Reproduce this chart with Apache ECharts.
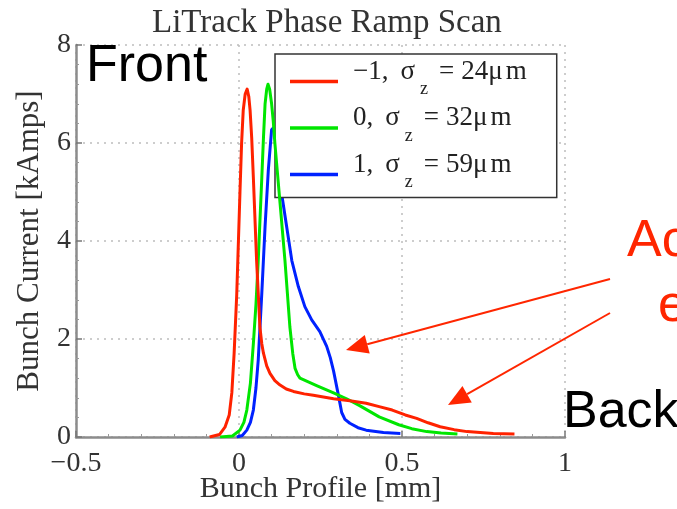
<!DOCTYPE html>
<html><head><meta charset="utf-8">
<script src="https://cdn.jsdelivr.net/npm/echarts@6/dist/echarts.min.js"></script>
<style>html,body{margin:0;padding:0;background:#fff}#c{width:677px;height:509px}</style>
</head><body><div id="c"></div>
<script>
const titleText = 'LiTrack Phase Ramp Scan';
const xAxisName = 'Bunch Profile [mm]';
const yAxisName = 'Bunch Current [kAmps]';
const xTicks = [-0.5, 0, 0.5, 1];
const yTicks = [0, 2, 4, 6, 8];
const phaseLabels = ['−1', '0', '1'];
const sigmaZ = [24, 32, 59];
const seriesColors = ['#ff2200', '#00e600', '#0022ff'];

const redX = [-0.09, -0.06, -0.043, -0.03, -0.022, -0.015, -0.007, 0.003, 0.008, 0.013, 0.019, 0.025, 0.03, 0.034, 0.039, 0.044, 0.054, 0.06, 0.064, 0.07, 0.075, 0.085, 0.095, 0.11, 0.126, 0.145, 0.167, 0.2, 0.228, 0.29, 0.34, 0.39, 0.43, 0.47, 0.51, 0.545, 0.58, 0.617, 0.66, 0.70, 0.74, 0.78, 0.845];
const redY = [0, 0.05, 0.2, 0.45, 0.9, 1.7, 2.9, 5.0, 6.0, 6.67, 7.0, 7.1, 6.95, 6.67, 6.1, 5.3, 3.6, 2.8, 2.25, 1.9, 1.71, 1.45, 1.3, 1.15, 1.06, 0.98, 0.93, 0.88, 0.85, 0.78, 0.74, 0.69, 0.62, 0.55, 0.45, 0.38, 0.29, 0.21, 0.15, 0.11, 0.09, 0.07, 0.06];

const greenX = [-0.058, -0.02, 0.003, 0.015, 0.024, 0.035, 0.044, 0.052, 0.059, 0.07, 0.075, 0.08, 0.085, 0.089, 0.094, 0.10, 0.105, 0.11, 0.126, 0.141, 0.156, 0.165, 0.172, 0.18, 0.187, 0.238, 0.29, 0.33, 0.37, 0.43, 0.49, 0.53, 0.576, 0.62, 0.67];
const greenY = [0, 0.02, 0.14, 0.3, 0.55, 1.1, 1.9, 2.7, 3.6, 5.3, 6.1, 6.8, 7.1, 7.2, 7.1, 6.8, 6.45, 6.0, 4.77, 3.6, 2.25, 1.7, 1.4, 1.27, 1.2, 1.05, 0.9, 0.78, 0.64, 0.41, 0.25, 0.17, 0.11, 0.08, 0.06];

const blueX = [-0.007, 0.01, 0.024, 0.035, 0.044, 0.052, 0.059, 0.07, 0.08, 0.09, 0.10, 0.118, 0.13, 0.146, 0.162, 0.182, 0.202, 0.223, 0.248, 0.269, 0.28, 0.29, 0.305, 0.315, 0.325, 0.34, 0.365, 0.39, 0.443, 0.495];
const blueY = [0, 0.03, 0.14, 0.3, 0.55, 1.0, 1.57, 2.94, 4.3, 5.45, 6.27, 6.4, 5.0, 4.3, 3.6, 3.07, 2.66, 2.39, 2.15, 1.85, 1.62, 1.35, 0.85, 0.5, 0.36, 0.28, 0.19, 0.14, 0.09, 0.07];

const xs = [redX, greenX, blueX];
const ys = [redY, greenY, blueY];
const names = phaseLabels.map((p, i) => p + ', σz = ' + sigmaZ[i] + 'μm');

const serif = '"Liberation Serif", "Times New Roman", Times, serif';
const sans = '"Liberation Sans", Arial, Helvetica, sans-serif';

const chart = echarts.init(document.getElementById('c'), null, {renderer: 'canvas'});

const series = names.map((n, i) => ({
  name: n,
  type: 'line',
  data: xs[i].map((x, j) => [x, ys[i][j]]),
  showSymbol: false,
  symbol: 'none',
  lineStyle: {color: seriesColors[i], width: 3, join: 'round'},
  itemStyle: {color: seriesColors[i]},
  z: 5 - i
}));

function arrow(x1, y1, x2, y2, color) {
  const dx = x2 - x1, dy = y2 - y1, L = Math.hypot(dx, dy);
  const ux = dx / L, uy = dy / L, nx = -uy, ny = ux;
  const hl = 22, hw = 9.5;
  const bx = x2 - ux * hl, by = y2 - uy * hl;
  return [
    {type: 'line', shape: {x1, y1, x2: bx, y2: by}, style: {stroke: color, lineWidth: 2}, z: 100},
    {type: 'polygon', shape: {points: [[x2, y2], [bx + nx * hw, by + ny * hw], [bx - nx * hw, by - ny * hw]]}, style: {fill: color}, z: 100}
  ];
}
const annRed = '#ff2600';
const lg = {fontFamily: serif, fontSize: 27, color: '#222'};

const option = {
  backgroundColor: '#fff',
  animation: false,
  title: {
    text: titleText, left: 152, top: 7, padding: 0,
    textStyle: {fontFamily: serif, fontSize: 33, fontWeight: 'normal', color: '#333'}
  },
  grid: {left: 76, right: 112, top: 45, bottom: 72, containLabel: false, outerBoundsMode: 'none'},
  legend: {
    left: 275, top: 54, orient: 'vertical',
    data: names, icon: 'rect', itemWidth: 48, itemHeight: 3.5, itemGap: 6,
    padding: [4, 30, 6, 15],
    backgroundColor: '#fff', borderColor: '#333', borderWidth: 1.5,
    formatter: function (name) {
      const i = names.indexOf(name);
      return '{a|' + phaseLabels[i] + ',}{g|σ}{z|z}{e|=}{d|' + sigmaZ[i] + 'μ}{m|m}';
    },
    textStyle: {
      fontFamily: serif, color: '#222', fontSize: 27,
      rich: {
        a: Object.assign({}, lg, {padding: [0, 0, 20, 10]}),
        g: Object.assign({}, lg, {padding: [0, 0, 20, 12]}),
        z: {fontFamily: serif, fontSize: 18, color: '#222', padding: [16, 0, 0, 5]},
        e: Object.assign({}, lg, {padding: [0, 0, 20, 11]}),
        d: Object.assign({}, lg, {padding: [0, 0, 20, 7]}),
        m: Object.assign({}, lg, {padding: [0, 0, 20, 3]})
      }
    }
  },
  xAxis: {
    type: 'value', min: xTicks[0], max: xTicks[xTicks.length - 1], interval: 0.5,
    name: xAxisName, nameLocation: 'middle', nameGap: 37, nameMoveOverlap: false,
    nameTextStyle: {fontFamily: serif, fontSize: 30, color: '#333'},
    axisLine: {show: true, onZero: false, lineStyle: {color: '#8c8c8c', width: 2.5}},
    axisTick: {show: true, inside: true, length: 6, lineStyle: {color: '#777', width: 1.5}},
    minorTick: {show: true, splitNumber: 5, length: 3, lineStyle: {color: '#999'}},
    axisLabel: {fontFamily: serif, fontSize: 28, color: '#333', margin: 13,
      formatter: v => (v < 0 ? '−' + Math.abs(v) : String(v))},
    splitLine: {show: true, lineStyle: {color: '#bdbdbd', type: [2, 5], width: 1.5}}
  },
  yAxis: {
    type: 'value', min: yTicks[0], max: yTicks[yTicks.length - 1], interval: 2,
    name: yAxisName, nameLocation: 'middle', nameGap: 31, nameRotate: 90, nameMoveOverlap: false,
    nameTextStyle: {fontFamily: serif, fontSize: 31, color: '#333'},
    axisLine: {show: true, onZero: false, lineStyle: {color: '#8c8c8c', width: 2.5}},
    axisTick: {show: true, inside: true, length: 6, lineStyle: {color: '#777', width: 1.5}},
    minorTick: {show: true, splitNumber: 5, length: 3, lineStyle: {color: '#999'}},
    axisLabel: {fontFamily: serif, fontSize: 28, color: '#333', margin: 5},
    splitLine: {show: true, lineStyle: {color: '#bdbdbd', type: [2, 5], width: 1.5}}
  },
  series: series,
  graphic: [
    {type: 'text', x: 86, y: 67, style: {text: 'Front', font: '52px ' + sans, fill: '#000', verticalAlign: 'middle'}, z: 100},
    {type: 'text', x: 563, y: 413, style: {text: 'Back', font: '52px ' + sans, fill: '#000', verticalAlign: 'middle'}, z: 100},
    {type: 'text', x: 627, y: 242, style: {text: 'Ac', font: '52px ' + sans, fill: annRed, verticalAlign: 'middle'}, z: 100},
    {type: 'text', x: 658, y: 307, style: {text: 'e', font: '52px ' + sans, fill: annRed, verticalAlign: 'middle'}, z: 100},
    ...arrow(610, 279, 346, 350, annRed),
    ...arrow(610, 313, 448, 405, annRed)
  ]
};
chart.setOption(option);
</script>
</body></html>
